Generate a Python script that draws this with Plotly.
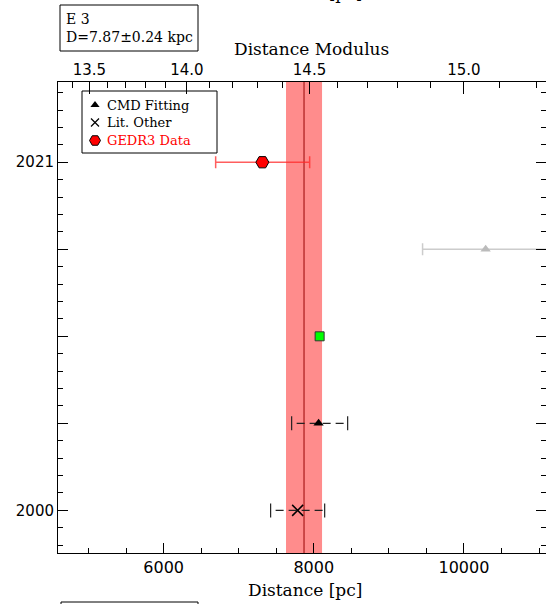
import plotly.graph_objects as go

# ---- E 3 distance estimates (pc), placed in publication slots on the vertical axis ----
lit_year = [2000.0]
lit_dist = [7785]
lit_err = [360]

cmd_year = [2005.25]
cmd_dist = [8064]
cmd_err_lo = [359]
cmd_err_hi = [387]

other_year = [2010.5]
other_dist = [8078]

cmd_out_year = [2015.75]
cmd_out_dist = [10289]
cmd_out_err = [840]

gedr3_year = [2021.0]
gedr3_dist = [7315]
gedr3_err_lo = [622]
gedr3_err_hi = [630]

# adopted distance
D_KPC = 7.87
D_ERR_KPC = 0.24

# axis ticks
dist_ticks = [6000, 8000, 10000]
dist_minor = [5000, 5500, 6500, 7000, 7500, 8500, 9000, 9500, 10500, 11000]
mod_ticks = [13.5, 14.0, 14.5, 15.0]
mod_minor = [13.4, 13.6, 13.7, 13.8, 13.9, 14.1, 14.2, 14.3, 14.4,
             14.6, 14.7, 14.8, 14.9, 15.1, 15.2]
year_ticks = [2000.0, 2005.25, 2010.5, 2015.75, 2021.0]
year_ticktext = ["2000", "", "", "", "2021"]

X_RANGE = [4593, 11093]
Y_RANGE = [1997.43, 2025.84]

W, H = 546, 604
ML, MR, MT, MB = 58, 0, 82, 51
PW, PH = W - ML - MR, H - MT - MB

SERIF = "DejaVu Serif"
SANS = "DejaVu Sans"


def px(x):
    """pixel column -> paper x"""
    return (x - ML) / PW


def py(y):
    """pixel row -> paper y"""
    return (H - MB - y) / PH


def mod_to_pc(mu):
    return 10 ** ((mu + 5.0) / 5.0)


def dashed_bar(xs, ys, lo, hi, color):
    """dashed horizontal error bar with end caps"""
    traces = []
    for x, y, l, h in zip(xs, ys, lo, hi):
        traces.append(go.Scatter(
            x=[x - l, x + h], y=[y, y], mode="lines",
            line=dict(color=color, width=1.2, dash="0px,5px,8px,0px"),
            hoverinfo="skip", showlegend=False))
        traces.append(go.Scatter(
            x=[x - l, x + h], y=[y, y], mode="markers",
            marker=dict(symbol="line-ns", size=10, line=dict(color=color, width=1.2)),
            hoverinfo="skip", showlegend=False))
    return traces


fig = go.Figure()

# adopted distance band and centre line
d0 = (D_KPC - D_ERR_KPC) * 1000
d1 = (D_KPC + D_ERR_KPC) * 1000
fig.add_shape(type="rect", xref="x", yref="paper", x0=d0, x1=d1, y0=0, y1=1,
              fillcolor="rgba(255,0,0,0.45)", line=dict(width=0), layer="below")
fig.add_shape(type="line", xref="x", yref="paper", x0=D_KPC * 1000, x1=D_KPC * 1000,
              y0=0, y1=1, line=dict(color="rgba(150,0,0,0.75)", width=1.3), layer="below")

# literature (other) value
for t in dashed_bar(lit_dist, lit_year, lit_err, lit_err, "#222222"):
    fig.add_trace(t)
fig.add_trace(go.Scatter(
    x=lit_dist, y=lit_year, mode="markers", name="Lit. Other", showlegend=False,
    marker=dict(symbol="x-thin", size=11, line=dict(color="black", width=1.5))))

# CMD fitting
for t in dashed_bar(cmd_dist, cmd_year, cmd_err_lo, cmd_err_hi, "#222222"):
    fig.add_trace(t)
fig.add_trace(go.Scatter(
    x=cmd_dist, y=cmd_year, mode="markers", name="CMD Fitting", showlegend=False,
    marker=dict(symbol="triangle-up", size=9, color="black")))

# other method
fig.add_trace(go.Scatter(
    x=other_dist, y=other_year, mode="markers", showlegend=False,
    marker=dict(symbol="square", size=9, color="#00ff00",
                line=dict(color="#333333", width=1))))

# CMD fitting, discarded
fig.add_trace(go.Scatter(
    x=cmd_out_dist, y=cmd_out_year, mode="markers", showlegend=False,
    error_x=dict(type="data", array=cmd_out_err, color="#cccccc", thickness=1.5, width=6),
    marker=dict(symbol="triangle-up", size=9, color="#bbbbbb")))

# Gaia EDR3 parallax
fig.add_trace(go.Scatter(
    x=gedr3_dist, y=gedr3_year, mode="markers", name="GEDR3 Data", showlegend=False,
    error_x=dict(type="data", symmetric=False, array=gedr3_err_hi, arrayminus=gedr3_err_lo,
                 color="rgba(255,40,40,0.75)", thickness=1.5, width=6),
    marker=dict(symbol="hexagon2", size=13, color="red", line=dict(color="black", width=1))))

# right-hand mirror ticks carrier (no line)
fig.add_trace(go.Scatter(x=[None], y=[None], yaxis="y2", showlegend=False, hoverinfo="skip"))
# top distance-modulus axis carrier
fig.add_trace(go.Scatter(x=[None], y=[None], xaxis="x2", showlegend=False, hoverinfo="skip"))

# ---- legend (drawn in an overlay frame in paper units) ----
leg_x = px(95)
leg_rows = [py(105), py(122.5), py(140.5)]
fig.add_trace(go.Scatter(
    x=[leg_x], y=[leg_rows[0]], xaxis="x3", yaxis="y3", mode="markers", showlegend=False,
    hoverinfo="skip", marker=dict(symbol="triangle-up", size=8, color="black")))
fig.add_trace(go.Scatter(
    x=[leg_x], y=[leg_rows[1]], xaxis="x3", yaxis="y3", mode="markers", showlegend=False,
    hoverinfo="skip", marker=dict(symbol="x-thin", size=8, line=dict(color="black", width=1.2))))
fig.add_trace(go.Scatter(
    x=[leg_x], y=[leg_rows[2]], xaxis="x3", yaxis="y3", mode="markers", showlegend=False,
    hoverinfo="skip", marker=dict(symbol="hexagon2", size=11, color="red",
                                  line=dict(color="black", width=1))))
leg_labels = [("CMD Fitting", "black"), ("Lit. Other", "black"), ("GEDR3 Data", "red")]
for (txt, col), yy in zip(leg_labels, leg_rows):
    fig.add_annotation(x=px(105), y=yy, xref="paper", yref="paper", text=txt,
                       showarrow=False, xanchor="left", yanchor="middle",
                       font=dict(family=SERIF, size=13, color=col))
fig.add_shape(type="rect", xref="paper", yref="paper", x0=px(82), x1=px(217),
              y0=py(153), y1=py(91), line=dict(color="black", width=1))

# ---- label box ----
fig.add_shape(type="rect", xref="paper", yref="paper", x0=px(60), x1=px(198),
              y0=py(51), y1=py(5), line=dict(color="black", width=1))
fig.add_annotation(x=px(64), y=py(28.5), xref="paper", yref="paper",
                   text=f"E 3<br>D={D_KPC:.2f}\u00b1{D_ERR_KPC:.2f} kpc",
                   showarrow=False, xanchor="left", yanchor="middle", align="left",
                   font=dict(family=SERIF, size=14, color="black"))

# neighbouring panels (partially in frame)
fig.add_annotation(x=px(305), y=py(-7), xref="paper", yref="paper", text="Distance [pc]",
                   showarrow=False, xanchor="center", yanchor="middle",
                   font=dict(family=SERIF, size=17, color="black"))
fig.add_shape(type="rect", xref="paper", yref="paper", x0=px(61), x1=px(198),
              y0=py(650), y1=py(602), line=dict(color="black", width=1))

# axis titles
fig.add_annotation(x=px(311), y=py(49), xref="paper", yref="paper", text="Distance Modulus",
                   showarrow=False, xanchor="center", yanchor="middle",
                   font=dict(family=SERIF, size=17, color="black"))
fig.add_annotation(x=px(305), y=py(590), xref="paper", yref="paper", text="Distance [pc]",
                   showarrow=False, xanchor="center", yanchor="middle",
                   font=dict(family=SERIF, size=17, color="black"))

axis_common = dict(showgrid=False, zeroline=False, ticks="inside", tickcolor="black",
                   tickwidth=1)

fig.update_layout(
    width=W, height=H,
    margin=dict(l=ML, r=MR, t=MT, b=MB),
    paper_bgcolor="white", plot_bgcolor="white",
    showlegend=False,
    xaxis=dict(range=X_RANGE, domain=[0, 1], showline=True, linecolor="black", linewidth=1,
               tickvals=dist_ticks, ticktext=[str(v) for v in dist_ticks], ticklen=10,
               tickfont=dict(family=SANS, size=16, color="black"),
               minor=dict(tickvals=dist_minor, ticklen=5, ticks="inside",
                          tickcolor="black", tickwidth=1),
               **axis_common),
    xaxis2=dict(range=X_RANGE, overlaying="x", side="top", anchor="y", showline=True,
                linecolor="black", linewidth=1,
                tickvals=[mod_to_pc(m) for m in mod_ticks],
                ticktext=[f"{m:.1f}" for m in mod_ticks], ticklen=12,
                tickfont=dict(family=SANS, size=15, color="black"),
                minor=dict(tickvals=[mod_to_pc(m) for m in mod_minor], ticklen=6,
                           ticks="inside", tickcolor="black", tickwidth=1),
                **axis_common),
    xaxis3=dict(range=[0, 1], domain=[0, 1], overlaying="x", visible=False, anchor="y3"),
    yaxis=dict(range=Y_RANGE, domain=[0, 1], showline=True, linecolor="black", linewidth=1,
               tickvals=year_ticks, ticktext=year_ticktext, ticklen=10,
               tickfont=dict(family=SANS, size=15, color="black"),
               minor=dict(dtick=1.05, tick0=2000, ticklen=5, ticks="inside",
                          tickcolor="black", tickwidth=1),
               **axis_common),
    yaxis2=dict(range=Y_RANGE, overlaying="y", side="right", anchor="x", showline=False,
                tickvals=year_ticks, showticklabels=False, ticklen=10,
                minor=dict(dtick=1.05, tick0=2000, ticklen=5, ticks="inside",
                           tickcolor="black", tickwidth=1),
                **axis_common),
    yaxis3=dict(range=[0, 1], domain=[0, 1], overlaying="y", visible=False, anchor="x3"),
)

fig.write_html("out.html")
